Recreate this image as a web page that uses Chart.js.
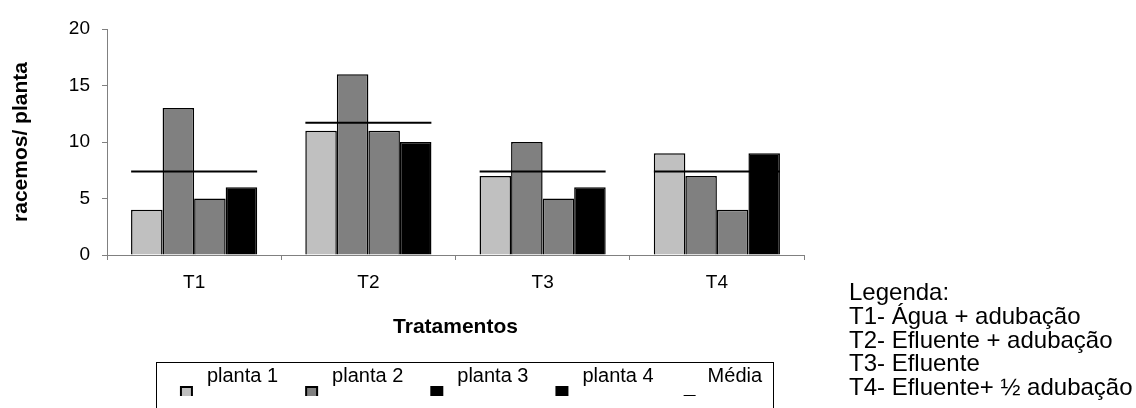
<!DOCTYPE html>
<html><head><meta charset="utf-8">
<script src="https://cdn.jsdelivr.net/npm/chart.js@4/dist/chart.umd.min.js"></script>
<style>
html,body{margin:0;padding:0;background:#fff;overflow:hidden}
#wrap{position:relative;width:1136px;height:408px;overflow:hidden}
#c{position:absolute;left:0;top:0}
#note{position:absolute;left:849px;top:280px;font-family:'Liberation Sans',Arial,sans-serif;font-size:24px;line-height:23.8px;color:#000;white-space:nowrap}
</style></head><body>
<div id="wrap"><canvas id="c" width="1136" height="408"></canvas><div id="note"></div></div>
<script>
// ---- data ----
const categories = ['T1', 'T2', 'T3', 'T4'];
const planta1 = [4, 11, 7, 9];
const planta2 = [13, 16, 10, 7];
const planta3 = [5, 11, 5, 4];
const planta4 = [6, 10, 6, 9];
const media = [7.4, 11.7, 7.4, 7.4];
const seriesNames = ['planta 1', 'planta 2', 'planta 3', 'planta 4', 'Média'];
const yTicks = [0, 5, 10, 15, 20];
const notes = ['Legenda:', 'T1- Água + adubação', 'T2- Efluente + adubação', 'T3- Efluente', 'T4- Efluente+ ½ adubação'];
const yTitle = 'racemos/ planta';
const xTitle = 'Tratamentos';

// ---- styles ----
const barColors = ['#C0C0C0', '#808080', '#808080', '#000000'];
const legendColors = ['#C0C0C0', '#808080', '#000000', '#000000'];
const legendBorders = [true, true, false, false];

document.getElementById('note').innerHTML = notes.join('<br>');

Chart.defaults.font.family = "'Liberation Sans', Arial, sans-serif";
Chart.defaults.color = '#000';

function marker(i) {
  const c = document.createElement('canvas');
  c.width = 18; c.height = 48;
  const g = c.getContext('2d');
  if (i === 4) {
    g.fillStyle = '#000';
    g.fillRect(4, 43, 12, 2);
  } else {
    g.fillStyle = legendColors[i];
    g.fillRect(1, 34, 13, 12);
    if (legendBorders[i]) {
      g.strokeStyle = '#000';
      g.lineWidth = 2;
      g.strokeRect(2, 35, 11, 10);
    }
  }
  return c;
}
const markers = seriesNames.map((_, i) => marker(i));

const barSeries = [planta1, planta2, planta3, planta4];
const datasets = [{
  type: 'line',
  label: seriesNames[4],
  data: media,
  order: 0,
  showLine: false,
  pointStyle: 'line',
  pointRadius: 63,
  pointHoverRadius: 63,
  pointBorderWidth: 2,
  pointBorderColor: '#000',
  pointBackgroundColor: '#000'
}].concat(barSeries.map((d, i) => ({
  type: 'bar',
  label: seriesNames[i],
  data: d,
  order: 1,
  backgroundColor: barColors[i],
  borderColor: '#000',
  borderWidth: 1.5,
  categoryPercentage: 0.724,
  barPercentage: 1.0
})));

const adjust = {
  id: 'adjust',
  afterLayout(chart) {
    const l = chart.legend;
    l.left += 15; l.right += 15;
  },
  afterDraw(chart) {
    const ctx = chart.ctx;
    ctx.save();
    ctx.strokeStyle = '#000';
    ctx.lineWidth = 1;
    ctx.strokeRect(156.5, 362.5, 617, 60);
    ctx.restore();
  }
};

new Chart(document.getElementById('c'), {
  type: 'bar',
  data: { labels: categories, datasets },
  plugins: [adjust],
  options: {
    responsive: false,
    animation: false,
    layout: { autoPadding: false, padding: { left: 0, right: 332, top: 29, bottom: 12 } },
    plugins: {
      tooltip: { enabled: false },
      legend: {
        position: 'bottom',
        fullSize: false,
        align: 'center',
        labels: {
          usePointStyle: true,
          pointStyleWidth: 18,
          padding: 26,
          font: { size: 20 },
          color: '#000',
          generateLabels: () => seriesNames.map((n, i) => ({
            text: n,
            pointStyle: markers[i],
            fillStyle: i < 4 ? legendColors[i] : '#000',
            strokeStyle: '#000',
            lineWidth: 0,
            hidden: false,
            datasetIndex: i === 4 ? 0 : i + 1
          }))
        }
      }
    },
    scales: {
      x: {
        offset: true,
        grid: { display: true, drawOnChartArea: false, drawTicks: true, tickLength: 5, color: '#808080', offset: true },
        border: { display: true, color: '#808080', width: 1 },
        ticks: { font: { size: 19 }, padding: 11, color: '#000' },
        title: { display: true, text: xTitle, font: { size: 21, weight: 'bold' }, padding: { top: 10, bottom: 0 }, color: '#000' }
      },
      y: {
        min: 0, max: 20,
        afterBuildTicks: s => { s.ticks = yTicks.map(v => ({ value: v })); },
        afterFit: s => { s.width = 107; },
        grid: { display: true, drawOnChartArea: false, drawTicks: true, tickLength: 5, color: '#808080' },
        border: { display: true, color: '#808080', width: 1 },
        ticks: { font: { size: 19 }, padding: 12, color: '#000' },
        title: { display: true, text: yTitle, font: { size: 21, weight: 'bold' }, padding: { top: 9, bottom: 23 }, color: '#000' }
      }
    }
  }
});
</script>
</body></html>
